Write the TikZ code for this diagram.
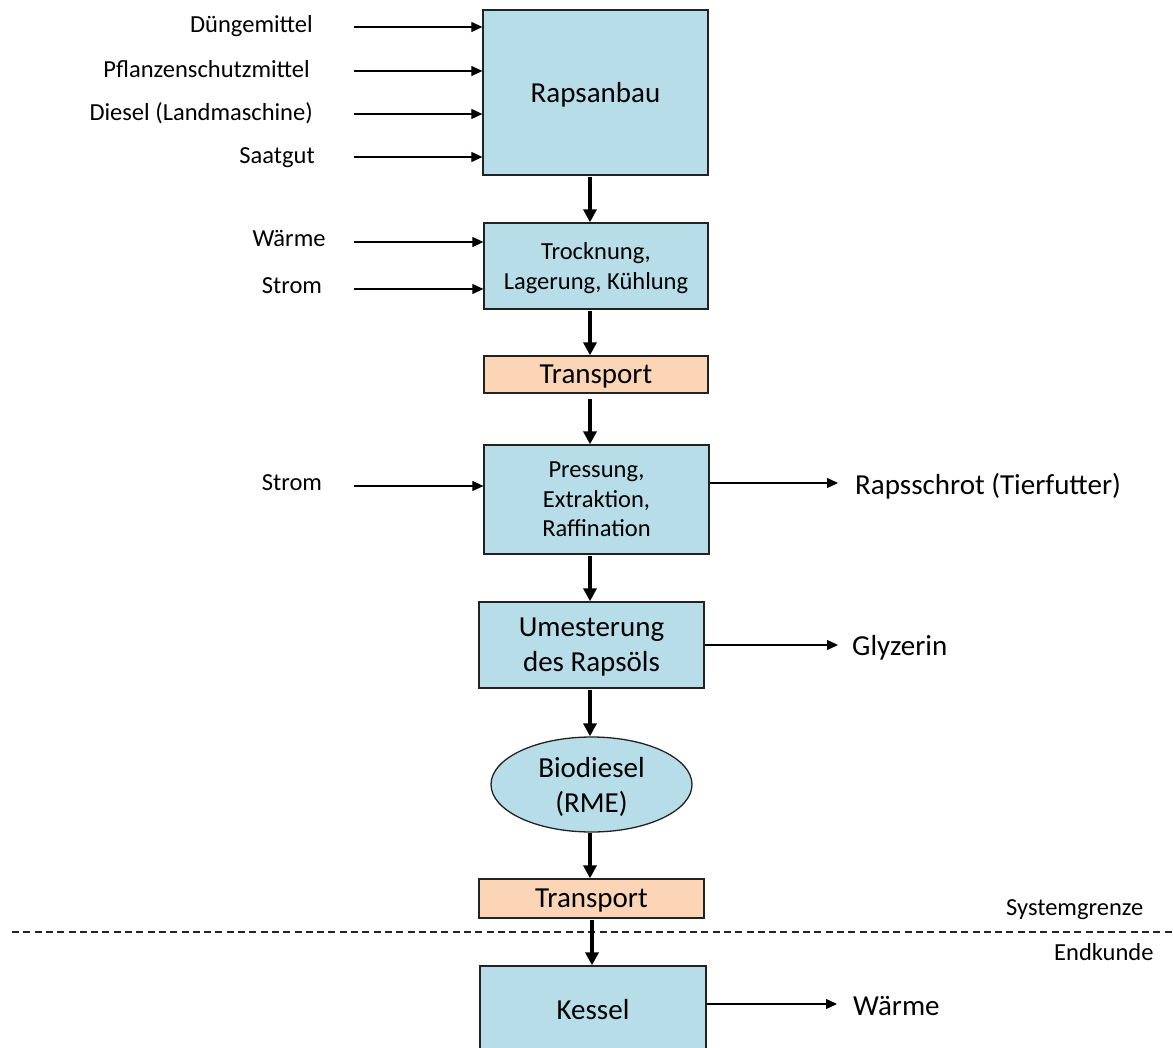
\documentclass[tikz,border=0pt]{standalone}
\usepackage{fontspec}
\setmainfont{Carlito}
\usetikzlibrary{arrows.meta,shapes.geometric}
\definecolor{boxblue}{HTML}{B7DDE8}
\definecolor{boxorange}{HTML}{FBD5B5}
\definecolor{edge}{HTML}{222222}
\begin{document}
\begin{tikzpicture}[x=1pt,y=-1pt,
  small/.style={font=\fontsize{24.5}{29.5}\selectfont},
  large/.style={font=\fontsize{29}{35}\selectfont},
  proc/.style={draw=edge,line width=1.3pt,fill=boxblue,inner sep=0pt,align=center,text depth=0pt},
  transbox/.style={proc,fill=boxorange},
  prodell/.style={proc,ellipse},
  lbls/.style={small,inner sep=0pt,text height=15.8pt,text depth=0pt},
  lbll/.style={large,inner sep=0pt,text height=18.7pt,text depth=0pt},
  flow/.style={line width=3.6pt,-{Triangle[length=13pt,width=13pt]}},
  feed/.style={line width=1.2pt,-{Triangle[length=11pt,width=10pt]}},
  boundary/.style={draw=edge,line width=1.4pt,dash pattern=on 7pt off 4.3pt}]
\useasboundingbox (0,0) rectangle (1173,1048);
\clip (0,0) rectangle (1173,1048);

% system boundary
\coordinate (dl) at (12,932);
\coordinate (dr) at (1173,932);
\draw[boundary] (dl) -- (dr);
\node[lbls,anchor=west] (sg) at (1006,908) {Systemgrenze};
\node[lbls,anchor=west] (ek) at (1054,953) {Endkunde};

% process chain
\node[proc,large,minimum width=225,minimum height=165] (raps) at (595.5,92.5) {Rapsanbau};
\node[proc,small,minimum width=224,minimum height=86] (trock) at (596,266) {Trocknung,\\Lagerung, Kühlung};
\node[transbox,large,minimum width=224,minimum height=37] (tr1) at (596,374.5) {Transport};
\node[proc,small,minimum width=225,minimum height=109] (press) at (596.5,499.5) {Pressung,\\Extraktion,\\Raffination};
\node[proc,large,minimum width=225,minimum height=86] (umest) at (591.5,645) {Umesterung\\des Rapsöls};
\node[prodell,large,minimum width=201,minimum height=95] (bio) at (591.5,784.5) {Biodiesel\\(RME)};
\node[transbox,large,minimum width=225,minimum height=39] (tr2) at (591.5,898.5) {Transport};
\node[proc,large,minimum width=226,minimum height=86] (kessel) at (593,1009) {Kessel};

% main flow arrows
\coordinate (colA) at (590,0);
\coordinate (colB) at (592,0);
\draw[flow,shorten <=1pt] (raps.south -| colA) -- (trock.north -| colA);
\draw[flow,shorten <=1pt] (trock.south -| colA) -- (tr1.north -| colA);
\draw[flow,shorten <=5pt] (tr1.south -| colA) -- (press.north -| colA);
\draw[flow,shorten <=1pt] (press.south -| colA) -- (umest.north -| colA);
\draw[flow,shorten <=1pt] (umest.south -| colA) -- (bio.north -| colA);
\draw[flow] (bio.south -| colA) -- (tr2.north -| colA);
\draw[flow,shorten <=1pt] (tr2.south -| colB) -- (kessel.north -| colB);

% inputs
\coordinate (i1) at (354,27);
\coordinate (i2) at (354,71);
\coordinate (i3) at (354,114);
\coordinate (i4) at (354,157);
\coordinate (i5) at (354,242);
\coordinate (i6) at (354,289);
\coordinate (i7) at (354,486);
\draw[feed] (i1) -- (i1 -| raps.west);
\draw[feed] (i2) -- (i2 -| raps.west);
\draw[feed] (i3) -- (i3 -| raps.west);
\draw[feed] (i4) -- (i4 -| raps.west);
\draw[feed] (i5) -- (i5 -| trock.west);
\draw[feed] (i6) -- (i6 -| trock.west);
\draw[feed] (i7) -- (i7 -| press.west);

\node[lbls,anchor=east] (l1) at (313,25) {Düngemittel};
\node[lbls,anchor=east] (l2) at (310,70) {Pflanzenschutzmittel};
\node[lbls,anchor=east] (l3) at (313,113) {Diesel (Landmaschine)};
\node[lbls,anchor=east] (l4) at (315,156) {Saatgut};
\node[lbls] (l5) at (289,239) {Wärme};
\node[lbls] (l6) at (292,286) {Strom};
\node[lbls] (l7) at (292,483) {Strom};

% outputs
\coordinate (o1) at (838,483);
\coordinate (o2) at (838,645);
\coordinate (o3) at (837,1004);
\draw[feed] (press.east |- o1) -- (o1);
\draw[feed] (umest.east |- o2) -- (o2);
\draw[feed] (kessel.east |- o3) -- (o3);
\node[lbll,anchor=west] (p1) at (855,485) {Rapsschrot (Tierfutter)};
\node[lbll,anchor=west] (p2) at (852,646) {Glyzerin};
\node[lbll,anchor=west] (p3) at (853,1006) {Wärme};
\end{tikzpicture}
\end{document}
